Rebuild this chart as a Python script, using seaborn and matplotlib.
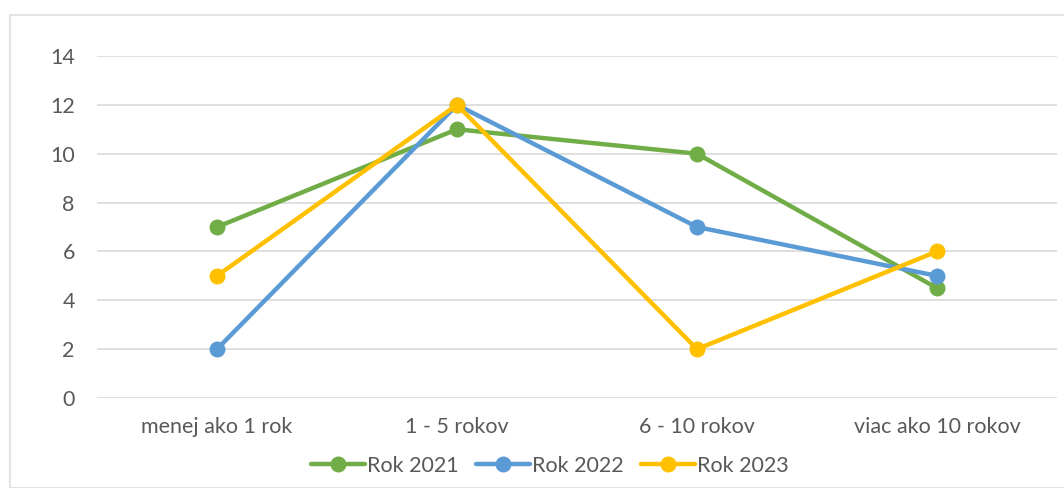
import pandas as pd
import matplotlib.pyplot as plt
import seaborn as sns
from matplotlib.patches import Rectangle

categories = ["menej ako 1 rok", "1 - 5 rokov", "6 - 10 rokov", "viac ako 10 rokov"]
rok_2021 = [7, 11, 10, 4.5]
rok_2022 = [2, 12, 7, 5]
rok_2023 = [5, 12, 2, 6]
series_names = ["Rok 2021", "Rok 2022", "Rok 2023"]
colors = ["#70AD47", "#5B9BD5", "#FFC000"]

rows = []
for name, vals in zip(series_names, [rok_2021, rok_2022, rok_2023]):
    for i, v in enumerate(vals):
        rows.append({"kat": i, "hodnota": v, "rok": name})
df = pd.DataFrame(rows)

sns.set_style("white")
plt.rcParams["font.family"] = ["Lato", "DejaVu Sans"]

fig = plt.figure(figsize=(10.64, 4.88), dpi=100)
ax = fig.add_axes([97 / 1064, 90 / 488, 960 / 1064, 342 / 488])

# light chart border like the Excel frame
fig.patches.append(Rectangle((10 / 1064, 0), 1.0, 473 / 488, transform=fig.transFigure,
                             fill=False, edgecolor="#E3E3E3", linewidth=1.5))

sns.lineplot(data=df, x="kat", y="hodnota", hue="rok", palette=colors,
             marker="o", markersize=11.5, markeredgewidth=0, linewidth=3.2,
             ax=ax, legend=False)

ax.set_xlim(-0.5, 3.5)
ax.set_ylim(0, 14)
ax.set_yticks(range(0, 15, 2))
ax.set_xticks(range(4))
ax.set_xticklabels(categories)
ax.grid(axis="y", color="#D9D9D9", linewidth=1.2)
ax.set_axisbelow(True)
for s in ax.spines.values():
    s.set_visible(False)
ax.tick_params(axis="both", length=0, labelsize=15.5, labelcolor="#595959")
ax.tick_params(axis="y", pad=16)
ax.tick_params(axis="x", pad=14)
ax.set_xlabel("")
ax.set_ylabel("")

handles = [plt.Line2D([], [], color=c, marker="o", markersize=11.5, linewidth=3.2,
                      markeredgewidth=0) for c in colors]
fig.legend(handles, series_names, loc="center", bbox_to_anchor=(550 / 1064, 22 / 488), ncol=3,
           frameon=False, fontsize=15.5, labelcolor="#595959", handlelength=2.5,
           handletextpad=0.1, columnspacing=0.8)

plt.savefig("out.png", dpi=100)
